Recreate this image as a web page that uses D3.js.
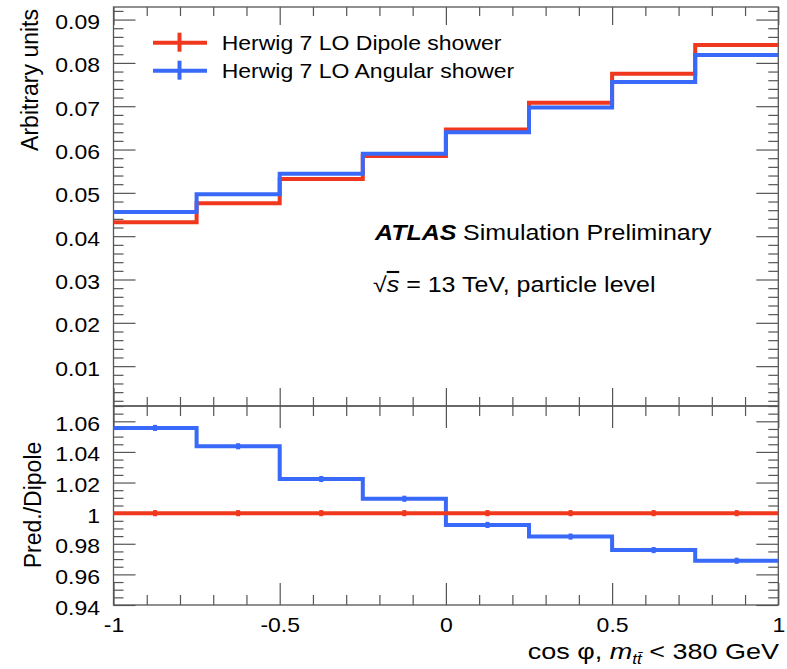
<!DOCTYPE html>
<html>
<head>
<meta charset="utf-8">
<script src="https://cdn.jsdelivr.net/npm/d3@7"></script>
<style>
  body { margin: 0; background: #fff; }
  svg { display: block; font-family: "Liberation Sans", Arial, sans-serif; }
</style>
</head>
<body>
<svg id="chart" width="787" height="669"></svg>
<script>
// cos(phi) distribution for m_tt < 380 GeV, Herwig 7 dipole vs angular shower

const binEdges = [-1, -0.75, -0.5, -0.25, 0, 0.25, 0.5, 0.75, 1];
const dipole  = [0.0432, 0.0476, 0.0532, 0.0585, 0.0646, 0.0708, 0.0775, 0.0841];
const angular = [0.0456, 0.0497, 0.0544, 0.0590, 0.0640, 0.0697, 0.0756, 0.0818];
const ratioDipole  = [1, 1, 1, 1, 1, 1, 1, 1];
const ratioAngular = [1.0557, 1.0437, 1.0223, 1.0094, 0.9923, 0.9847, 0.9759, 0.9689];
const ratioErrDipole  = [0.002, 0.002, 0.002, 0.002, 0.002, 0.002, 0.002, 0.002];
const ratioErrAngular = [0.002, 0.002, 0.002, 0.002, 0.002, 0.002, 0.002, 0.002];

const seriesNames  = ["Herwig 7 LO Dipole shower", "Herwig 7 LO Angular shower"];
const seriesColors = ["#ef381e", "#3869f8"];

const xTicks = [-1, -0.5, 0, 0.5, 1];
const xTickLabels = ["-1", "-0.5", "0", "0.5", "1"];
const yTopTicks = [0.01, 0.02, 0.03, 0.04, 0.05, 0.06, 0.07, 0.08, 0.09];
const yTopTickLabels = ["0.01", "0.02", "0.03", "0.04", "0.05", "0.06", "0.07", "0.08", "0.09"];
const yRatioTicks = [0.94, 0.96, 0.98, 1, 1.02, 1.04, 1.06];
const yRatioTickLabels = ["0.94", "0.96", "0.98", "1", "1.02", "1.04", "1.06"];

const SQ = 0.85;          // vertical squeeze of horizontal text, like the original
const frameColor = "#555";

const svg = d3.select("#chart");

const x = d3.scaleLinear().domain([-1, 1]).range([113.5, 778.3]);
const yTop = d3.scaleLinear().domain([0.0008, 0.0929]).range([406, 7]);
const yRat = d3.scaleLinear().domain([0.94, 1.07]).range([605, 406]);

// minor tick positions (skip the majors)
const near = (v, arr) => arr.some(a => Math.abs(a - v) < 1e-9);
const xMinor = d3.range(-10, 11).map(i => i / 10).filter(v => !near(v, xTicks));
const yTopMinor = d3.range(1, 47).map(i => i * 0.002).filter(v => !near(v, yTopTicks));
const yRatMinor = d3.range(189, 215).map(i => i * 0.005).filter(v => !near(v, yRatioTicks));

function drawTicks(axisFn, scale, values, size, transform, labels) {
  const axis = axisFn(scale).tickValues(values).tickSize(-size)
    .tickPadding(13.5)
    .tickFormat(labels ? (d, i) => labels[i] : "");
  const g = svg.append("g").attr("transform", transform).call(axis)
    .attr("font-size", null).attr("font-family", null);
  g.select(".domain").remove();
  g.selectAll("line").attr("stroke", frameColor).attr("stroke-width", 1.2);
  return g;
}

const L = x.range()[0], R = x.range()[1];

// ---- top panel ticks
drawTicks(d3.axisBottom, x, xTicks, 18, `translate(0,406)`);
drawTicks(d3.axisBottom, x, xMinor, 9, `translate(0,406)`);
drawTicks(d3.axisTop, x, xTicks, 18, `translate(0,7)`);
drawTicks(d3.axisTop, x, xMinor, 9, `translate(0,7)`);
const gyTop = drawTicks(d3.axisLeft, yTop, yTopTicks, 22, `translate(${L},0)`, yTopTickLabels);
drawTicks(d3.axisLeft, yTop, yTopMinor, 10, `translate(${L},0)`);
drawTicks(d3.axisRight, yTop, yTopTicks, 22, `translate(${R},0)`);
drawTicks(d3.axisRight, yTop, yTopMinor, 10, `translate(${R},0)`);

// ---- ratio panel ticks
const gxRat = drawTicks(d3.axisBottom, x, xTicks, 22, `translate(0,605)`, xTickLabels);
drawTicks(d3.axisBottom, x, xMinor, 10, `translate(0,605)`);
drawTicks(d3.axisTop, x, xTicks, 22, `translate(0,406)`);
drawTicks(d3.axisTop, x, xMinor, 10, `translate(0,406)`);
const gyRat = drawTicks(d3.axisLeft, yRat, yRatioTicks, 22, `translate(${L},0)`, yRatioTickLabels);
drawTicks(d3.axisLeft, yRat, yRatMinor, 10, `translate(${L},0)`);
drawTicks(d3.axisRight, yRat, yRatioTicks, 22, `translate(${R},0)`);
drawTicks(d3.axisRight, yRat, yRatMinor, 10, `translate(${R},0)`);

[gyTop, gyRat].forEach(g => g.selectAll("text")
  .attr("dy", null).attr("y", 9 / SQ)
  .attr("font-size", 23).attr("fill", "#000")
  .attr("transform", `scale(1,${SQ})`));
gxRat.selectAll("text")
  .attr("dy", null).attr("y", 27 / SQ)
  .attr("font-size", 23).attr("fill", "#000")
  .attr("transform", `scale(1,${SQ})`);

// ---- frames
svg.append("rect").attr("x", L).attr("y", 7).attr("width", R - L).attr("height", 406 - 7)
  .attr("fill", "none").attr("stroke", frameColor).attr("stroke-width", 1.3);
svg.append("rect").attr("x", L).attr("y", 406).attr("width", R - L).attr("height", 605 - 406)
  .attr("fill", "none").attr("stroke", frameColor).attr("stroke-width", 1.3);

// ---- histograms
function stepPoints(values) {
  return values.flatMap((v, i) => [[binEdges[i], v], [binEdges[i + 1], v]]);
}
const lineTop = d3.line().x(d => x(d[0])).y(d => yTop(d[1]));
const lineRat = d3.line().x(d => x(d[0])).y(d => yRat(d[1]));

[dipole, angular].forEach((vals, k) => {
  svg.append("path").attr("d", lineTop(stepPoints(vals)))
    .attr("fill", "none").attr("stroke", seriesColors[k]).attr("stroke-width", 4);
});

const ratioSets = [
  { vals: ratioAngular, err: ratioErrAngular, color: seriesColors[1] },
  { vals: ratioDipole, err: ratioErrDipole, color: seriesColors[0] },
];
ratioSets.forEach(s => {
  svg.append("path").attr("d", lineRat(stepPoints(s.vals)))
    .attr("fill", "none").attr("stroke", s.color).attr("stroke-width", 4);
  svg.append("g").selectAll("line").data(s.vals).join("line")
    .attr("x1", (d, i) => x((binEdges[i] + binEdges[i + 1]) / 2))
    .attr("x2", (d, i) => x((binEdges[i] + binEdges[i + 1]) / 2))
    .attr("y1", (d, i) => yRat(d - s.err[i]))
    .attr("y2", (d, i) => yRat(d + s.err[i]))
    .attr("stroke", s.color).attr("stroke-width", 4);
});

// ---- legend
const legendY = [42.7, 70.7];
seriesNames.forEach((name, k) => {
  const g = svg.append("g").attr("transform", `translate(0,${legendY[k]})`);
  g.append("line").attr("x1", 153).attr("x2", 207).attr("y1", 0).attr("y2", 0)
    .attr("stroke", seriesColors[k]).attr("stroke-width", 4);
  g.append("line").attr("x1", 179.5).attr("x2", 179.5).attr("y1", -10).attr("y2", 9)
    .attr("stroke", seriesColors[k]).attr("stroke-width", 4);
  g.append("text").attr("transform", `translate(221.7,7.5) scale(1,${SQ})`)
    .attr("font-size", 23).text(name);
});

// ---- ATLAS label
svg.append("text").attr("transform", `translate(375,239.5) scale(1,${SQ})`)
  .attr("font-size", 25).attr("font-weight", "bold").attr("font-style", "italic")
  .text("ATLAS");
svg.append("text").attr("transform", `translate(463,239.5) scale(1,${SQ})`)
  .attr("font-size", 25).text("Simulation Preliminary");
const sq = svg.append("text").attr("transform", `translate(373,292) scale(1,${SQ})`)
  .attr("font-size", 25);
sq.append("tspan").text("√");
sq.append("tspan").attr("font-style", "italic").style("text-decoration", "overline").text("s");
sq.append("tspan").text(" = 13 TeV, particle level");

// ---- axis titles
svg.append("text").attr("transform", "translate(38,9) rotate(-90)")
  .attr("text-anchor", "end").attr("font-size", 23).text("Arbitrary units");
svg.append("text").attr("transform", "translate(41,505) rotate(-90)")
  .attr("text-anchor", "middle").attr("font-size", 23).text("Pred./Dipole");

const xt = svg.append("text").attr("transform", `translate(779,659) scale(1,${SQ})`)
  .attr("text-anchor", "end").attr("font-size", 27);
xt.append("tspan").text("cos φ, ");
xt.append("tspan").attr("font-style", "italic").text("m");
xt.append("tspan").attr("font-style", "italic").attr("font-size", 17).attr("dy", 6).text("tt̄");
xt.append("tspan").attr("dy", -6).text(" < 380 GeV");
</script>
</body>
</html>
